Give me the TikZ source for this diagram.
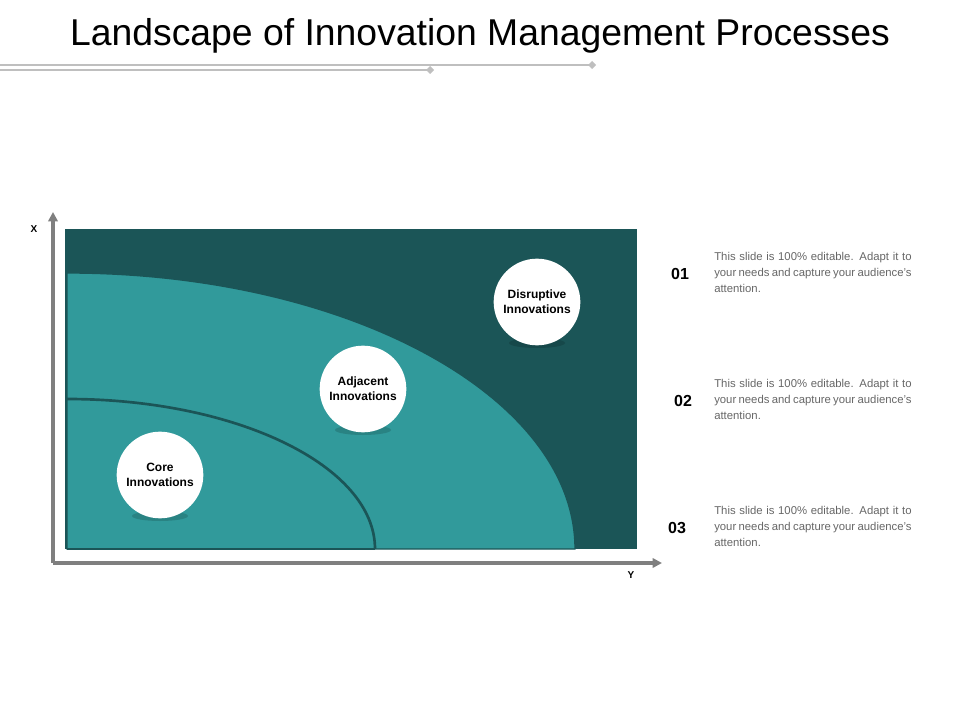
\documentclass[tikz,border=0pt]{standalone}
\usepackage{fontspec}
\setmainfont{Liberation Sans}
\usetikzlibrary{arrows.meta,positioning}
\definecolor{darkteal}{HTML}{1B5557}
\definecolor{lightteal}{HTML}{319A9B}
\definecolor{axisgray}{HTML}{7F7F7F}
\definecolor{rulegray}{HTML}{BFBFBF}
\begin{document}
\begin{tikzpicture}[x=0.75pt,y=-0.75pt]
    \tikzstyle{bubble}=[circle, fill=white, minimum size=65pt, inner sep=0pt, align=center, font=\fontsize{9}{11}\selectfont\bfseries]
    \tikzstyle{num}=[font=\fontsize{12}{14}\selectfont\bfseries]
    \tikzstyle{note}=[anchor=north west, align=justify, text width=148pt, text=black!60, font=\fontsize{8.5}{12}\selectfont, inner sep=0pt]
    \tikzstyle{axis}=[-{Triangle[length=7pt,width=7pt]}, axisgray, line width=2.4pt]
    \useasboundingbox (0,0) rectangle (960,720);
    \node (title) at (480,36) {\fontsize{28}{32}\selectfont Landscape of Innovation Management Processes};
    % rules under the title
    \coordinate (r1) at (592,65);
    \coordinate (r2) at (430,70);
    \draw[rulegray, line width=1.5pt] (0,65) -- (r1);
    \draw[rulegray, line width=1.5pt] (0,70) -- (r2);
    \fill[rulegray] (r1) ++(-4,0) -- ++(4,-4) -- ++(4,4) -- ++(-4,4) -- cycle;
    \fill[rulegray] (r2) ++(-4,0) -- ++(4,-4) -- ++(4,4) -- ++(-4,4) -- cycle;
    % chart
    \fill[darkteal] (65,229) rectangle (637,549);
    \fill[lightteal, draw=darkteal, line width=1pt] (67,549) -- (67,273) arc[start angle=-90, end angle=0, x radius=508, y radius=276] -- cycle;
    \draw[darkteal, line width=2pt] (67,399) arc[start angle=-90, end angle=0, x radius=308, y radius=150];
    \draw[darkteal, line width=2pt] (67,549) -- (375,549);
    % axes
    \coordinate (origin) at (53,563);
    \coordinate (xend) at (53,212);
    \coordinate (yend) at (662,563);
    \draw[axis] (origin) -- (xend);
    \draw[axis] (origin) -- (yend);
    \node[font=\fontsize{7.5}{9}\selectfont\bfseries] (xlab) at (34,229) {X};
    \node[font=\fontsize{7.5}{9}\selectfont\bfseries] (ylab) at (631,575) {Y};
    % bubbles with shadows
    \foreach \px/\py/\nm/\txt in {160/475/core/Core\\Innovations, 363/389/adjacent/Adjacent\\Innovations, 537/302/disruptive/Disruptive\\Innovations}{
      \fill[black, opacity=0.15] (\px,\py+41) ellipse[x radius=28, y radius=5];
      \node[bubble] (\nm) at (\px,\py) {\txt};
    }
    % numbered notes
    \foreach \nx/\ny/\n in {680/274/01, 683/401/02, 677/528/03}{
      \node[num] (n\n) at (\nx,\ny) {\n};
      \node[note] (t\n) at (714,\ny-22) {This slide is 100\% editable. Adapt it to your needs and capture your audience's attention.};
    }
\end{tikzpicture}
\end{document}
